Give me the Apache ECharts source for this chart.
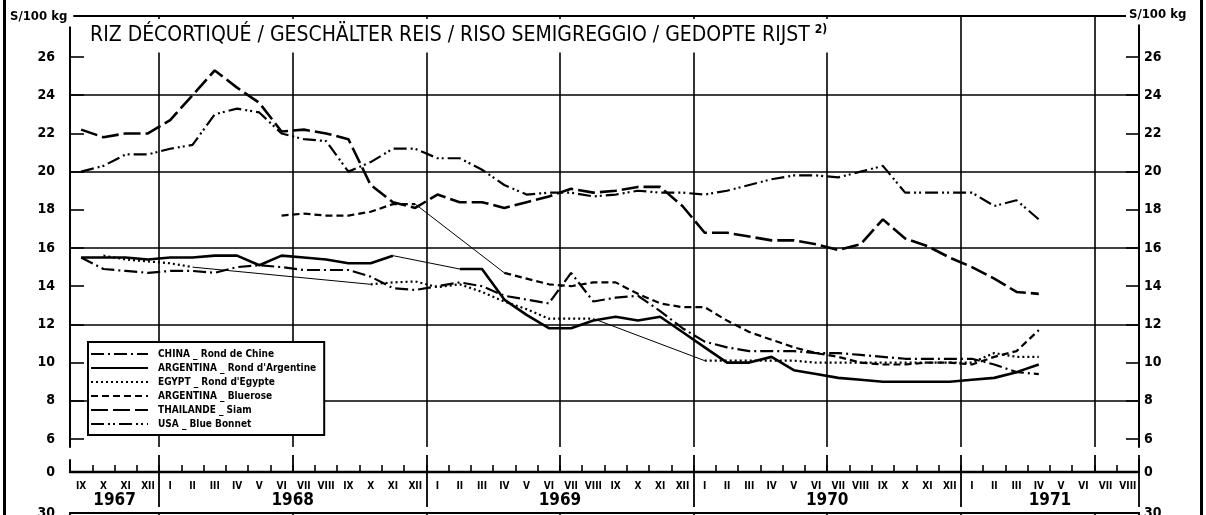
<!DOCTYPE html>
<html>
<head>
<meta charset="utf-8">
<title>Riz décortiqué</title>
<script src="https://cdn.jsdelivr.net/npm/echarts@6/dist/echarts.min.js"></script>
<style>
  html, body { margin: 0; padding: 0; background: #fff; }
  #chart { width: 1206px; height: 515px; }
</style>
</head>
<body>
<div id="chart"></div>
<script>
// Monthly prices, $ per 100 kg, September 1967 – August 1971.
const months = [
  'IX','X','XI','XII',
  'I','II','III','IV','V','VI','VII','VIII','IX','X','XI','XII',
  'I','II','III','IV','V','VI','VII','VIII','IX','X','XI','XII',
  'I','II','III','IV','V','VI','VII','VIII','IX','X','XI','XII',
  'I','II','III','IV','V','VI','VII','VIII'
];
const years = ['1967', '1968', '1969', '1970', '1971'];
const yearFirstMonth = [0, 4, 16, 28, 40];   // index in months where each year begins

const yTickValues = [6, 8, 10, 12, 14, 16, 18, 20, 22, 24, 26];
const yGridValues = [8, 12, 16, 20, 24];

// Series values from IX 1967 onwards (null = no quotation)
const china = [15.5,14.9,14.8,14.7,14.8,14.8,14.7,15.0,15.1,15.0,14.85,14.85,14.85,14.5,13.9,13.8,
  14.0,14.2,14.0,13.5,13.3,13.1,14.7,13.2,13.4,13.5,12.7,11.8,
  11.1,10.8,10.6,10.6,10.6,10.5,10.5,10.4,10.3,10.2,10.2,10.2,
  10.2,9.9,9.5,9.4];
const argentinaRond = [15.5,15.5,15.5,15.4,15.5,15.5,15.6,15.6,15.1,15.6,15.5,15.4,15.2,15.2,15.6,null,
  null,14.9,14.9,13.3,12.5,11.8,11.8,12.2,12.4,12.2,12.4,11.6,
  10.8,10.0,10.0,10.3,9.6,9.4,9.2,9.1,9.0,9.0,9.0,9.0,
  9.1,9.2,9.5,9.9];
const egypt = [null,15.6,15.4,15.3,15.2,15.0,null,null,null,null,null,null,null,14.1,14.2,14.25,
  13.95,14.1,13.7,13.2,12.8,12.3,12.3,12.3,null,null,null,null,
  10.1,10.1,10.1,10.1,10.1,10.0,10.0,10.0,10.0,10.0,10.0,10.0,
  10.0,10.5,10.3,10.3];
const bluerose = [null,null,null,null,null,null,null,null,null,17.7,17.8,17.7,17.7,17.9,18.3,18.3,
  null,null,null,14.7,14.4,14.1,14.0,14.2,14.2,13.6,13.1,12.9,
  12.9,12.2,11.6,11.2,10.8,10.5,10.3,10.0,9.9,9.9,10.0,10.0,
  9.9,10.3,10.6,11.7];
const thailand = [22.2,21.8,22.0,22.0,22.7,24.0,25.3,24.4,23.6,22.1,22.2,22.0,21.7,19.3,18.4,18.1,
  18.8,18.4,18.4,18.1,18.4,18.7,19.1,18.9,19.0,19.2,19.2,18.2,
  16.8,16.8,16.6,16.4,16.4,16.2,15.9,16.2,17.5,16.5,16.1,15.5,
  15.0,14.4,13.7,13.6];
const usa = [20.0,20.3,20.9,20.9,21.2,21.4,23.0,23.3,23.1,22.0,21.7,21.6,20.0,20.5,21.2,21.2,
  20.7,20.7,20.1,19.3,18.8,18.9,18.9,18.7,18.8,19.0,18.9,18.9,
  18.8,19.0,19.3,19.6,19.8,19.8,19.7,20.0,20.3,18.9,18.9,18.9,
  18.9,18.2,18.5,17.5];

const FONT = "'Liberation Sans Narrow', 'DejaVu Sans Condensed', sans-serif";
const INK = '#000';

const seriesDefs = [
  { name: 'CHINA _ Rond de Chine',          values: china,         width: 2.2, dash: [13, 4, 2, 4] },
  { name: "ARGENTINA _ Rond d'Argentine",   values: argentinaRond, width: 2.6, dash: 'solid' },
  { name: "EGYPT _ Rond d'Egypte",          values: egypt,         width: 2.2, dash: [2, 3] },
  { name: 'ARGENTINA _ Bluerose',           values: bluerose,      width: 2.2, dash: [7, 4] },
  { name: 'THAILANDE _ Siam',               values: thailand,      width: 2.6, dash: [17, 5] },
  { name: 'USA _ Blue Bonnet',              values: usa,           width: 2.2, dash: [13, 4, 2, 3, 2, 4] }
];

const isBoundary = (index, value) => value === 'I' || value === 'VII';
const isYearStart = (index, value) => value === 'I';

const toData = values => months.map((m, i) => (values[i] === undefined ? null : values[i]));

// Interior gaps are bridged by a thin solid line.
function gapLinks(values) {
  const links = [];
  let last = -1;
  values.forEach((v, i) => {
    if (v == null) return;
    if (last >= 0 && i - last > 1) links.push([last, i]);
    last = i;
  });
  return links;
}

const series = [];
seriesDefs.forEach(def => {
  series.push({
    name: def.name,
    type: 'line',
    xAxisIndex: 0,
    yAxisIndex: 0,
    data: toData(def.values),
    symbol: 'none',
    connectNulls: false,
    lineStyle: { color: INK, width: def.width, type: def.dash, cap: 'butt' },
    itemStyle: { color: INK },
    z: 3
  });
  gapLinks(def.values).forEach(([a, b]) => {
    series.push({
      name: def.name + ' (link)',
      type: 'line',
      xAxisIndex: 0,
      yAxisIndex: 0,
      data: months.map((m, i) => (i === a || i === b ? def.values[i] : null)),
      symbol: 'none',
      connectNulls: true,
      lineStyle: { color: INK, width: 1, type: 'solid' },
      z: 2
    });
  });
});

const yearCenters = yearFirstMonth.map((s, k) => (s + (k + 1 < yearFirstMonth.length ? yearFirstMonth[k + 1] : months.length)) / 2);

const Y_MIN = 5.58, Y_MAX = 28.15;
const numLabel = { fontFamily: FONT, fontWeight: 'bold', fontSize: 14, color: INK };

const option = {
  animation: false,
  backgroundColor: '#fff',
  title: {
    text: '{a|RIZ DÉCORTIQUÉ / GESCHÄLTER REIS / RISO SEMIGREGGIO / GEDOPTE RIJST}{b|2)}',
    left: 84,
    top: 19,
    padding: [5, 8, 6, 6],
    backgroundColor: '#fff',
    textStyle: {
      rich: {
        a: { fontFamily: FONT, fontSize: 21, fontWeight: 'normal', color: INK, lineHeight: 24 },
        b: { fontFamily: FONT, fontSize: 12, fontWeight: 'bold', color: INK, verticalAlign: 'top', padding: [0, 0, 0, 5], lineHeight: 24 }
      }
    }
  },
  legend: {
    data: seriesDefs.map(d => d.name),
    orient: 'vertical',
    left: 88,
    top: 342,
    padding: [7, 8, 6, 2],
    itemWidth: 57,
    itemHeight: 10,
    itemGap: 4,
    selectedMode: false,
    backgroundColor: '#fff',
    borderColor: INK,
    borderWidth: 2,
    borderRadius: 0,
    itemStyle: { opacity: 0 },
    textStyle: { fontFamily: FONT, fontWeight: 'bold', fontSize: 10, color: INK, lineHeight: 10, padding: [0, 0, 0, 5] }
  },
  grid: [
    { left: 70, right: 67, top: 16, bottom: 68 },
    { left: 70, right: 67, top: 460, height: 12 },
    { left: 70, right: 67, top: 513, height: 40 }
  ],
  xAxis: [
    { // plot frame top edge + half-year grid lines
      gridIndex: 0, type: 'category', data: months, boundaryGap: true, position: 'top',
      axisLine: { show: true, lineStyle: { color: INK, width: 2 } },
      axisTick: { show: false }, axisLabel: { show: false },
      splitLine: { show: true, interval: isBoundary, lineStyle: { color: INK, width: 1.6 } }
    },
    { // month scale
      gridIndex: 1, type: 'category', data: months, boundaryGap: true, position: 'bottom',
      axisLine: { show: true, lineStyle: { color: INK, width: 2.4 } },
      axisTick: { show: true, inside: true, length: 7, interval: 0, lineStyle: { color: INK, width: 1.6 } },
      axisLabel: { show: true, interval: 0, margin: 9, fontFamily: FONT, fontWeight: 'bold', fontSize: 10, color: INK },
      splitLine: { show: false }
    },
    { // half-year marks
      gridIndex: 1, type: 'category', data: months, boundaryGap: true, position: 'bottom',
      axisLine: { show: false },
      axisTick: { show: true, inside: true, length: 17, interval: isBoundary, lineStyle: { color: INK, width: 1.8 } },
      axisLabel: { show: false }, splitLine: { show: false }
    },
    { // year separators
      gridIndex: 1, type: 'category', data: months, boundaryGap: true, position: 'bottom',
      axisLine: { show: false },
      axisTick: { show: true, inside: false, length: 35, interval: isYearStart, lineStyle: { color: INK, width: 1.8 } },
      axisLabel: { show: false }, splitLine: { show: false }
    },
    { // year labels
      gridIndex: 1, type: 'value', min: 0, max: months.length, position: 'bottom',
      axisLine: { show: false }, axisTick: { show: false }, splitLine: { show: false },
      axisLabel: {
        show: true, customValues: yearCenters, margin: 20,
        formatter: v => years[yearCenters.indexOf(v)] || '',
        fontFamily: FONT, fontWeight: 'bold', fontSize: 17, color: INK
      }
    },
    { // top edge of the next panel
      gridIndex: 2, type: 'category', data: months, boundaryGap: true, position: 'top',
      axisLine: { show: true, lineStyle: { color: INK, width: 2 } },
      axisTick: { show: false }, axisLabel: { show: false },
      splitLine: { show: true, interval: isBoundary, lineStyle: { color: INK, width: 1.6 } }
    }
  ],
  yAxis: [
    {
      gridIndex: 0, type: 'value', position: 'left', min: Y_MIN, max: Y_MAX,
      axisLine: { show: true, lineStyle: { color: INK, width: 2 } },
      axisTick: { show: true, inside: true, length: 14, customValues: yTickValues, lineStyle: { color: INK, width: 1.6 } },
      axisLabel: { show: true, customValues: yTickValues, margin: 15, ...numLabel },
      splitLine: { show: false }
    },
    {
      gridIndex: 0, type: 'value', position: 'right', min: Y_MIN, max: Y_MAX,
      axisLine: { show: true, lineStyle: { color: INK, width: 2 } },
      axisTick: { show: true, inside: true, length: 13, customValues: yTickValues, lineStyle: { color: INK, width: 1.6 } },
      axisLabel: { show: true, customValues: yTickValues, margin: 5, ...numLabel },
      splitLine: { show: false }
    },
    { // horizontal grid lines every 4 units
      gridIndex: 0, type: 'value', position: 'left', min: Y_MIN, max: Y_MAX,
      axisLine: { show: false },
      axisTick: { show: false, customValues: yGridValues },
      axisLabel: { show: false },
      splitLine: { show: true, lineStyle: { color: INK, width: 1.6 } }
    },
    {
      gridIndex: 1, type: 'value', position: 'left', min: 0, max: 1,
      axisLine: { show: true, lineStyle: { color: INK, width: 2 } },
      axisTick: { show: false, customValues: [0] },
      axisLabel: { show: true, customValues: [0], margin: 15, ...numLabel },
      splitLine: { show: false }
    },
    {
      gridIndex: 1, type: 'value', position: 'right', min: 0, max: 1,
      axisLine: { show: true, lineStyle: { color: INK, width: 2 } },
      axisTick: { show: false, customValues: [0] },
      axisLabel: { show: true, customValues: [0], margin: 5, ...numLabel },
      splitLine: { show: false }
    },
    {
      gridIndex: 2, type: 'value', position: 'left', min: 26, max: 30,
      axisLine: { show: true, lineStyle: { color: INK, width: 2 } },
      axisTick: { show: false, customValues: [30] },
      axisLabel: { show: true, customValues: [30], margin: 15, ...numLabel },
      splitLine: { show: false }
    },
    {
      gridIndex: 2, type: 'value', position: 'right', min: 26, max: 30,
      axisLine: { show: true, lineStyle: { color: INK, width: 2 } },
      axisTick: { show: false, customValues: [30] },
      axisLabel: { show: true, customValues: [30], margin: 5, ...numLabel },
      splitLine: { show: false }
    }
  ],
  graphic: [
    { type: 'rect', shape: { x: 3, y: 0, width: 3, height: 515 }, style: { fill: INK }, z: 20 },
    { type: 'rect', shape: { x: 1200, y: 0, width: 3, height: 515 }, style: { fill: INK }, z: 20 },
    {
      type: 'text', x: 9, y: 17, z: 20,
      style: { text: 'S/100 kg', fontFamily: FONT, fontWeight: 'bold', fontSize: 13, fill: INK,
               verticalAlign: 'middle', align: 'left', backgroundColor: '#fff', padding: [3, 6, 3, 1] }
    },
    {
      type: 'text', x: 1126, y: 15, z: 20,
      style: { text: 'S/100 kg', fontFamily: FONT, fontWeight: 'bold', fontSize: 13, fill: INK,
               verticalAlign: 'middle', align: 'left', backgroundColor: '#fff', padding: [3, 4, 3, 3] }
    }
  ],
  series: series
};

const chart = echarts.init(document.getElementById('chart'), null, { renderer: 'canvas' });
chart.setOption(option);
</script>
</body>
</html>
